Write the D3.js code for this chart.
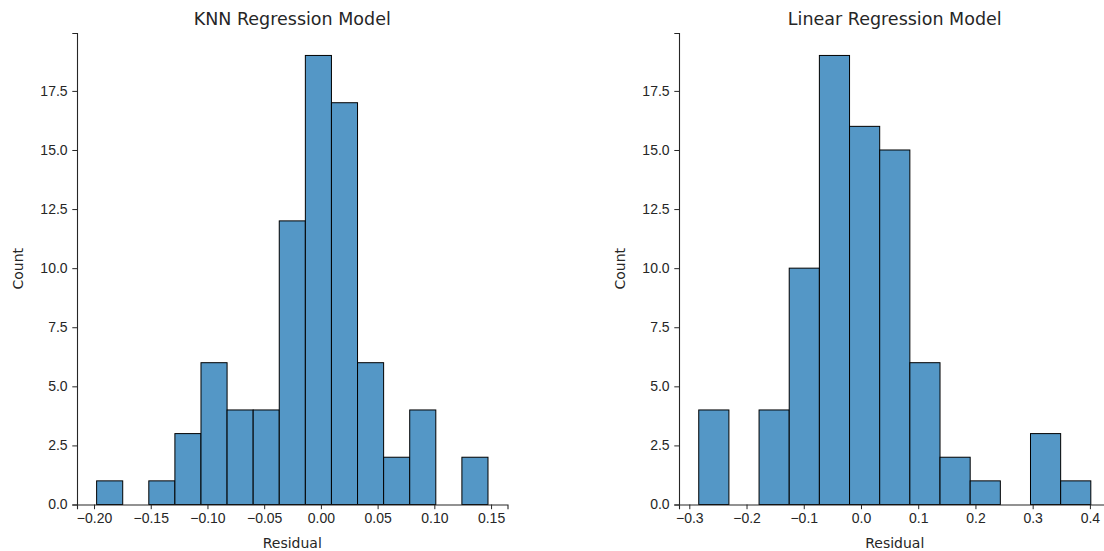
<!DOCTYPE html>
<html lang="en">
<head>
  <meta charset="UTF-8">
  <title>Residual Histograms</title>
  <style>
    body { margin: 0; background: #fff; }
    svg { display: block; font-family: "DejaVu Sans", sans-serif; }
    .tick text { font-size: 14px; fill: #262626; }
    .tick line { stroke: #262626; }
    .domain { stroke: #262626; }
    .bar { fill: #5497c6; stroke: #000; stroke-width: 1; }
  </style>
</head>
<body>
  <div id="chart"></div>
  <script src="https://d3js.org/d3.v7.min.js"></script>
  <script>
    // KNN residual histogram
    const knnCounts = [1, 0, 1, 3, 6, 4, 4, 12, 19, 17, 6, 2, 4, 0, 2];
    const knnStart = -0.1977;
    const knnBinWidth = 0.023;
    const knnTicks = [-0.20, -0.15, -0.10, -0.05, 0.00, 0.05, 0.10, 0.15];

    // Linear regression residual histogram
    const linCounts = [4, 0, 4, 10, 19, 16, 15, 6, 2, 1, 0, 3, 1];
    const linStart = -0.2835;
    const linBinWidth = 0.0527;
    const linTicks = [-0.3, -0.2, -0.1, 0.0, 0.1, 0.2, 0.3, 0.4];

    const yTicks = [0, 2.5, 5, 7.5, 10, 12.5, 15, 17.5];

    const width = 1104, height = 551;
    const svg = d3.select("#chart").append("svg")
      .attr("width", width)
      .attr("height", height);

    const y = d3.scaleLinear().domain([0, 19.95]).range([504.5, 33]);

    function panel(opts) {
      const { counts, start, binWidth, ticks, fmt, title, x0, x1, xDomain } = opts;
      const x = d3.scaleLinear().domain(xDomain).range([x0, x1]);
      const g = svg.append("g");

      const bins = counts.map((c, i) => ({
        lo: start + i * binWidth,
        hi: start + (i + 1) * binWidth,
        count: c
      })).filter(d => d.count > 0);

      g.selectAll(".bar")
        .data(bins)
        .enter()
        .append("rect")
        .attr("class", "bar")
        .attr("x", d => x(d.lo))
        .attr("y", d => y(d.count))
        .attr("width", d => x(d.hi) - x(d.lo))
        .attr("height", d => y(0) - y(d.count));

      // x axis
      g.append("g")
        .attr("transform", `translate(0, ${y(0)})`)
        .call(d3.axisBottom(x).tickValues(ticks).tickFormat(d3.format(fmt))
          .tickSizeOuter(0).tickSize(4.7).tickPadding(4.2));

      // y axis
      g.append("g")
        .attr("transform", `translate(${x0}, 0)`)
        .call(d3.axisLeft(y).tickValues(yTicks).tickFormat(d3.format(".1f"))
          .tickSizeOuter(0).tickSize(4.7).tickPadding(4.7));

      g.selectAll(".domain").attr("stroke-width", 1.1);

      g.append("text")
        .attr("x", (x0 + x1) / 2)
        .attr("y", 25)
        .attr("text-anchor", "middle")
        .attr("font-size", "17.5px")
        .attr("fill", "#262626")
        .text(title);

      g.append("text")
        .attr("x", (x0 + x1) / 2)
        .attr("y", 548)
        .attr("text-anchor", "middle")
        .attr("font-size", "14px")
        .attr("fill", "#262626")
        .text("Residual");

      g.append("text")
        .attr("transform", `translate(${x0 - 54}, ${(y(0) + y(19.95)) / 2}) rotate(-90)`)
        .attr("text-anchor", "middle")
        .attr("font-size", "14px")
        .attr("fill", "#262626")
        .text("Count");
    }

    panel({
      counts: knnCounts, start: knnStart, binWidth: knnBinWidth,
      ticks: knnTicks, fmt: ".2f", title: "KNN Regression Model",
      x0: 77, x1: 507.5, xDomain: [-0.215, 0.1645]
    });

    panel({
      counts: linCounts, start: linStart, binWidth: linBinWidth,
      ticks: linTicks, fmt: ".1f", title: "Linear Regression Model",
      x0: 679, x1: 1110.5, xDomain: [-0.318, 0.436]
    });
  </script>
</body>
</html>
